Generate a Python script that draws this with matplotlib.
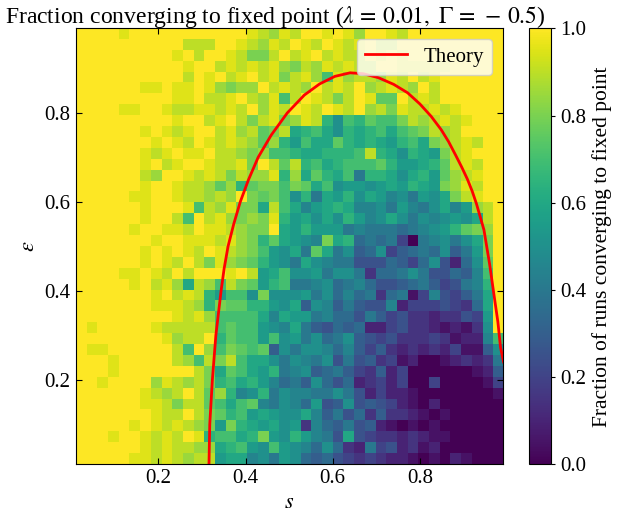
import matplotlib
matplotlib.use("Agg")
import matplotlib.pyplot as plt
import numpy as np

plt.rcParams['font.family'] = 'serif'
plt.rcParams['font.serif'] = ['Liberation Serif', 'DejaVu Serif']
plt.rcParams['mathtext.fontset'] = 'stix'

# grid extent (s and epsilon)
s_range = [0.01, 0.99]
eps_range = [0.01, 0.99]

# fraction of runs converging, one char per cell, rows from top (eps high) to bottom
# level chars: '0'..'9','A'..'K' -> 0.00 .. 1.00 in steps of 0.05
levels = "0123456789ABCDEFGHIJK"
frac_rows = [
    "KKKKJKKKKKKKKKKKJIHJIKKJKJHKKJIKKKKKKKKK",
    "KKKKKKKKKKIIIKKJIHJIKJIKJIJKIIKKKKKKKKKK",
    "KKKKKKKKKJKIKKJIGGIKIJKIJIIKJKJKKKKKKKKK",
    "KKKKKKKKKKJKKIJIJIJHGIHJIJIIKKJJJJJKKKKK",
    "KKKKKKKKKKIKJKIJKIJGIJHEJHIIHJIKIJKKKKKK",
    "KKKKKKJJKJJKJHGHHKIJIHKIJIKHIJIHKIKKKKKK",
    "KKKKKKKKKJJKIIJKIHJEIKJIGIKJFFKIJIKKKKKK",
    "KKKKJJKKJIIJJIJIKHJIKJIKJIKHIGJIIJIJKKKK",
    "KKKKKKKKKJKKIJKIGIJGHJIDAEDFEEGIHIJIJKKK",
    "KKKKKKJKJIJKKIJHIFGICDECADCDECEFGIHIKKKK",
    "KKKKKKKJKJIKJIJIHFHDBECCFDCDCBDECGHIJIKK",
    "KKKKKKJIJKJJKIIHGHEEDCCDDDEIDCADCBGIJKKK",
    "KKKKKKJKIJKKJIIJGKIFIDECDEEEFDBBCDFIJIKK",
    "KKKKKKIHKKJIJIGIHHJDHCFDCE8DDCACDBFHIJKK",
    "KKKKKKJKKJIIHFHDFGGEGFCEABBABCBDCBGHJIKK",
    "KKKKKJJKKJIIHIHKGFGEAD8CBDACB9A8BACGIJKK",
    "KKKKKKJKKKJEIHJGGCIEC9BCDC99A8B98AC9BHIK",
    "KKKKKKJKKIEKIJHGHGJDBCACADB9ACA8A9ABACIK",
    "KKKKKJKKJJIKJJIHGGKCBDBBB89888789ABDFGHK",
    "KKKKKKKJKKJJJIJHGDFCBA9GCD78784089A8ACGK",
    "KKKKKKJKJKJIKJIHGEBAC8FC8A67A46787A68BGK",
    "KKKKKKJKJIKIGJHGFDBA8CA9885557647A527AFK",
    "KKKKJJKJIKIKKKJKIBCEAAB8AA83778A855769EK",
    "KKKKKJKIJHCIHEIGFBDE889A78975567864589DK",
    "KKKKKKKJKIJIDBEEAGAAAB8A79783781495468CK",
    "KKKKKKKJJJIHDGFFDDBAC6A968655924445437CK",
    "KKKKKKKKKJIJHEEEEC9CBB8977586453323354BK",
    "KJKKKKKJIIIIIEFEEBA9C86576722453321213AK",
    "KKKKKKKKJHIIKDFEEBEAB8A78A6545333431229E",
    "KJJKKKKKKIEKHEGFEF6A8AA9796463232324116A",
    "KKKJKKKKKIHEIGIECCA8A98A5856341200123238",
    "KKKJKKKKKKKIGCFECBD89A678643624000000126",
    "KKJKKKKHJIHIGDECDB9786A75723424004000014",
    "KKKKKKJIHIKIFHD9AD8A9988A852422100000001",
    "KKKKKKJJIGIIFECEF98A97B56A56542102000000",
    "KKKKKKKJIIKIGFDEBCBAAC968573633210100000",
    "KKKKKJKJIJIHGBGDCBCAB3976856210101000000",
    "KKKJKKJIJIKJDEECDGBADB985C54332321100000",
    "KKKKKKJIJIIHHCDEBAEBA97A7328452312000000",
    "KKKKKJJIJIHIIBCC9A8BA7675434322101021000",
]

# theory boundary
theory_s = [0.316, 0.317, 0.318, 0.321, 0.324, 0.328, 0.332, 0.338, 0.344, 0.351,
            0.360, 0.373, 0.388, 0.407, 0.429, 0.459, 0.496, 0.535, 0.570, 0.605,
            0.640, 0.670, 0.705, 0.740, 0.772, 0.800, 0.826, 0.849, 0.866, 0.882,
            0.896, 0.909, 0.920, 0.930, 0.947, 0.960, 0.970, 0.979, 0.985, 0.992]
theory_eps = [0.000, 0.050, 0.100, 0.150, 0.200, 0.250, 0.300, 0.350, 0.400, 0.450,
              0.500, 0.550, 0.600, 0.650, 0.700, 0.750, 0.800, 0.840, 0.865, 0.882,
              0.890, 0.888, 0.879, 0.864, 0.845, 0.820, 0.792, 0.762, 0.735, 0.705,
              0.678, 0.651, 0.624, 0.595, 0.537, 0.460, 0.391, 0.330, 0.273, 0.240]

frac = np.array([[levels.index(ch) / 20.0 for ch in row] for row in frac_rows])

fig = plt.figure(figsize=(6.25, 5.14), dpi=100)
ax = fig.add_axes([0.1208, 0.0967, 0.6835, 0.8482])
cax = fig.add_axes([0.8464, 0.0967, 0.0352, 0.8482])

im = ax.imshow(frac, origin='upper', cmap='viridis', vmin=0, vmax=1,
               extent=[s_range[0], s_range[1], eps_range[0], eps_range[1]],
               aspect='auto', interpolation='nearest')
ax.plot(theory_s, theory_eps, '-', color='red', lw=2, label='Theory')
ax.set_xlim(s_range)
ax.set_ylim(eps_range)

ax.set_xticks([0.2, 0.4, 0.6, 0.8])
ax.set_yticks([0.2, 0.4, 0.6, 0.8])
ax.tick_params(direction='in', top=True, right=True, labelsize=15, length=4)
ax.set_xlabel('$s$', fontsize=16)
ax.set_ylabel(r'$\varepsilon$', fontsize=16)
ax.set_title(r'Fraction converging to fixed point ($\lambda\,=\,0.01,\ \Gamma\,=\,-\,0.5$)',
             fontsize=17, x=0.467, pad=4)
ax.legend(loc='upper right', fontsize=15)

cb = fig.colorbar(im, cax=cax)
cb.set_ticks([0.0, 0.2, 0.4, 0.6, 0.8, 1.0])
cb.ax.tick_params(labelsize=15, length=3)
cb.set_label('Fraction of runs converging to fixed point', fontsize=15.5)

plt.savefig('out.png')
